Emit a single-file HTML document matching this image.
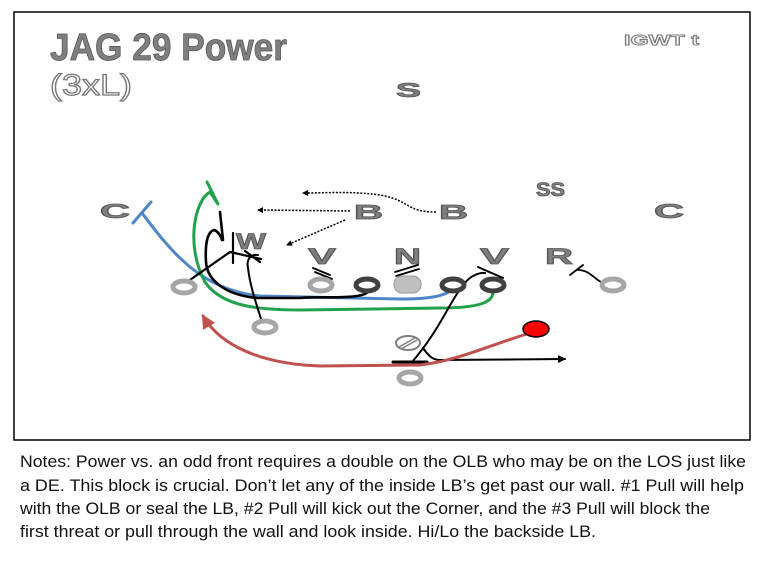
<!DOCTYPE html>
<html><head><meta charset="utf-8"><style>
html,body{margin:0;padding:0;background:#fff;width:768px;height:576px;overflow:hidden}
svg{display:block}
.L{font-family:"Liberation Sans",sans-serif;font-weight:bold;fill:#7f7f7f;stroke:#555;stroke-width:0.8}
.n{font-family:"Liberation Sans",sans-serif;font-size:16.5px;fill:#111}
</style></head><body>
<svg width="768" height="576" viewBox="0 0 768 576" xmlns="http://www.w3.org/2000/svg">
<defs>
<marker id="ab" markerWidth="8" markerHeight="8" refX="7" refY="4" orient="auto" markerUnits="userSpaceOnUse"><path d="M0,0 L8,4 L0,8 z" fill="#000"/></marker>
<marker id="ad" markerWidth="6" markerHeight="6" refX="5" refY="3" orient="auto" markerUnits="userSpaceOnUse"><path d="M0,0 L6,3 L0,6 z" fill="#000"/></marker>
<marker id="ar" markerWidth="14" markerHeight="14" refX="12" refY="7" orient="auto" markerUnits="userSpaceOnUse"><path d="M0,0 L14,7 L0,14 z" fill="#c0504d"/></marker>
</defs>
<rect x="14" y="12" width="736" height="428" fill="none" stroke="#000" stroke-width="1.5"/>
<text class="L" x="50" y="60" font-size="38" textLength="237" lengthAdjust="spacingAndGlyphs">JAG 29 Power</text>
<text x="50" y="95" font-family="Liberation Sans,sans-serif" font-size="30" fill="#fff" stroke="#777" stroke-width="1.2" textLength="82" lengthAdjust="spacingAndGlyphs">(3xL)</text>
<text x="624" y="45" font-family="Liberation Sans,sans-serif" font-weight="bold" font-size="15" fill="#fff" stroke="#777" stroke-width="0.9" textLength="75" lengthAdjust="spacingAndGlyphs">IGWT t</text>

<text class="L" x="396" y="97" font-size="20" textLength="25" lengthAdjust="spacingAndGlyphs">S</text>
<text class="L" x="536" y="196" font-size="19" textLength="29" lengthAdjust="spacingAndGlyphs">SS</text>
<text class="L" x="100" y="218" font-size="20" textLength="30" lengthAdjust="spacingAndGlyphs">C</text>
<text class="L" x="354" y="219" font-size="20" textLength="29" lengthAdjust="spacingAndGlyphs">B</text>
<text class="L" x="439" y="219" font-size="20" textLength="29" lengthAdjust="spacingAndGlyphs">B</text>
<text class="L" x="654" y="218" font-size="20" textLength="30" lengthAdjust="spacingAndGlyphs">C</text>
<text class="L" x="236" y="249" font-size="22" textLength="30" lengthAdjust="spacingAndGlyphs">W</text>
<text class="L" x="308" y="264" font-size="22" textLength="28" lengthAdjust="spacingAndGlyphs">V</text>
<text class="L" x="394" y="264" font-size="22" textLength="27" lengthAdjust="spacingAndGlyphs">N</text>
<text class="L" x="480" y="264" font-size="22" textLength="29" lengthAdjust="spacingAndGlyphs">V</text>
<text class="L" x="545" y="264" font-size="22" textLength="28" lengthAdjust="spacingAndGlyphs">R</text>

<g fill="none" stroke="#000" stroke-width="1.5" stroke-dasharray="2,1.5">
<path d="M350,211 L258,210" marker-end="url(#ad)"/>
<path d="M345,220 L287,245" marker-end="url(#ad)"/>
<path d="M436,212 C405,212 410,200 380,195 C350,191 330,193 303,193" marker-end="url(#ad)"/>
</g>

<g fill="none" stroke-linecap="round" stroke-linejoin="round">
<path d="M133,223 L151,202" stroke="#4f86c6" stroke-width="3"/>
<path d="M142,213 C170,250 200,290 260,296 L400,299 C430,299 445,296 451,290" stroke="#4f86c6" stroke-width="3"/>
<path d="M207,182 L218,204 L210,192 C195,200 185,245 205,282 C222,307 260,310 300,310 L440,308 C480,308 493,302 493,292" stroke="#1fa24a" stroke-width="3"/>
<path d="M368,292 C360,300 320,296 300,298 L257,298 C225,295 207,280 206,262 C205,245 207,232 214,230 C220,232 222,240 222,240 M220,212 L223,240" stroke="#000" stroke-width="2.6"/>
<path d="M187,282 L230,252 L261,259 M233,233 L233,263 M245,251 L260,262" stroke="#000" stroke-width="2.2"/>
<path d="M262,322 C255,300 250,285 248,268 C246,258 252,254 258,255" stroke="#000" stroke-width="2"/>
<path d="M412,362 C440,330 450,300 465,283 C470,276 480,272 485,273 M478,267 L503,278" stroke="#000" stroke-width="2"/>
<path d="M393,362 L427,362" stroke="#000" stroke-width="3"/>
<path d="M423,348 C428,355 432,360 440,360 L565,359" stroke="#000" stroke-width="2" marker-end="url(#ab)"/>
<path d="M313,268 L330,275 M315,272 L332,279 M395,272 L418,265 M396,276 L419,269 M570,275 L583,265 M578,270 C590,270 595,280 603,283" stroke="#000" stroke-width="1.8"/>
<path d="M530,333 C490,345 460,360 420,365 L320,366 C260,364 220,345 203,316" stroke="#c0504d" stroke-width="3" marker-end="url(#ar)"/>
</g>

<g stroke-width="5">
<ellipse cx="184" cy="287" rx="11" ry="6" fill="#fff" stroke="#a6a6a6"/>
<ellipse cx="321" cy="285" rx="11" ry="6" fill="#fff" stroke="#a6a6a6"/>
<ellipse cx="367" cy="285" rx="11" ry="6" fill="#fff" stroke="#404040"/>
<rect x="394" y="276" width="27" height="17" rx="8" fill="#bfbfbf" stroke="#999" stroke-width="1"/>
<ellipse cx="453" cy="285" rx="11" ry="6" fill="#fff" stroke="#404040"/>
<ellipse cx="493" cy="285" rx="11" ry="6" fill="#fff" stroke="#404040"/>
<ellipse cx="613" cy="285" rx="11" ry="6" fill="#fff" stroke="#a6a6a6"/>
<ellipse cx="265" cy="327" rx="11" ry="6" fill="#fff" stroke="#a6a6a6"/>
<ellipse cx="410" cy="378" rx="11" ry="6" fill="#fff" stroke="#a6a6a6"/>
</g>
<ellipse cx="408" cy="343" rx="12" ry="7" fill="#fff" stroke="#808080" stroke-width="2"/>
<path d="M399,347 L415,338 M401,349 L417,340" stroke="#808080" stroke-width="1.5"/>
<ellipse cx="536" cy="329" rx="13" ry="8" fill="#f00" stroke="#000" stroke-width="1.5"/>

<text class="n" x="20" y="467" textLength="726" lengthAdjust="spacingAndGlyphs">Notes: Power vs. an odd front requires a double on the OLB who may be on the LOS just like</text>
<text class="n" x="20" y="491" textLength="724" lengthAdjust="spacingAndGlyphs">a DE.  This block is crucial.  Don’t let any of the inside LB’s get past our wall. #1 Pull will help</text>
<text class="n" x="20" y="514" textLength="690" lengthAdjust="spacingAndGlyphs">with the OLB or seal the LB, #2 Pull will kick out the Corner, and the #3 Pull will block the</text>
<text class="n" x="20" y="537" textLength="576" lengthAdjust="spacingAndGlyphs">first threat or pull through the wall and look inside. Hi/Lo the backside LB.</text>
</svg>
</body></html>
